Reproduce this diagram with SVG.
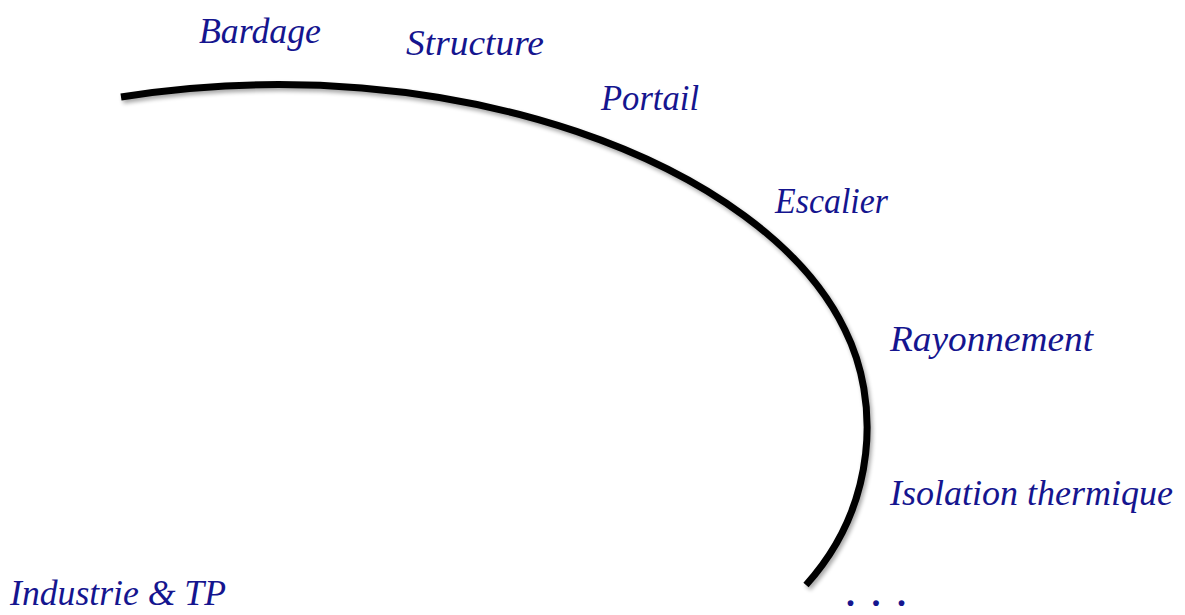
<svg xmlns="http://www.w3.org/2000/svg" width="1185" height="615" viewBox="0 0 1185 615">
<style>
.lbl{font-family:"Liberation Serif","DejaVu Serif",serif;font-style:italic;font-size:36px;fill:#15158f}
.dots{font-family:"Liberation Serif","DejaVu Serif",serif;font-weight:bold;font-size:36px;fill:#15158f}
</style>
<defs>
<filter id="sh" x="-5%" y="-5%" width="110%" height="110%">
<feGaussianBlur in="SourceAlpha" stdDeviation="2"/>
<feOffset dx="2" dy="3" result="b"/>
<feComponentTransfer><feFuncA type="linear" slope="0.35"/></feComponentTransfer>
<feMerge><feMergeNode/><feMergeNode in="SourceGraphic"/></feMerge>
</filter>
</defs>
<rect width="1185" height="615" fill="#ffffff"/>
<g id="connectors">
<path d="M121,97 C450,45 765,163 845,330 C880,400 878,505 806,585" fill="none" stroke="#000" stroke-width="7" filter="url(#sh)"/>
</g>
<g id="bardage"><text class="lbl" x="199" y="43" textLength="122" lengthAdjust="spacingAndGlyphs">Bardage</text></g>
<g id="structure"><text class="lbl" x="406" y="55" textLength="138" lengthAdjust="spacingAndGlyphs">Structure</text></g>
<g id="portail"><text class="lbl" x="601" y="110" textLength="98" lengthAdjust="spacingAndGlyphs">Portail</text></g>
<g id="escalier"><text class="lbl" x="775" y="213" textLength="113" lengthAdjust="spacingAndGlyphs">Escalier</text></g>
<g id="rayonnement"><text class="lbl" x="890" y="351" textLength="203" lengthAdjust="spacingAndGlyphs">Rayonnement</text></g>
<g id="isolation"><text class="lbl" x="890" y="505" textLength="283" lengthAdjust="spacingAndGlyphs">Isolation thermique</text></g>
<g id="industrie"><text class="lbl" x="10" y="605" textLength="216" lengthAdjust="spacingAndGlyphs">Industrie &amp; TP</text></g>
<g id="etc"><text class="dots" x="846" y="606" textLength="60" lengthAdjust="spacing">...</text></g>
</svg>
